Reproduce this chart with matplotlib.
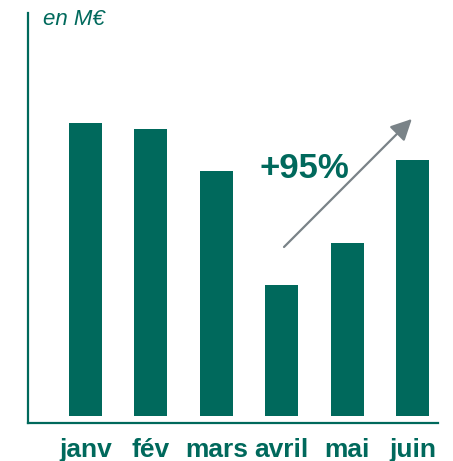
import matplotlib.pyplot as plt

months = ["janv", "fév", "mars", "avril", "mai", "juin"]
values = [29.3, 28.7, 24.5, 13.1, 17.3, 25.6]

teal = "#00695C"
grey = "#7A8388"

plt.rcParams['font.family'] = ['Liberation Sans', 'DejaVu Sans']

fig = plt.figure(figsize=(4.53, 4.61), dpi=100)
ax = fig.add_axes([28 / 453, 38 / 461, 410 / 453, 410 / 461])

x = list(range(len(months)))
ax.bar(x, values, width=0.505, color=teal)

ax.set_xlim(-0.88, 5.39)
ax.set_ylim(-0.7, 40.3)
ax.set_xticks(x)
ax.set_xticklabels(months, fontsize=19, fontweight='bold', color=teal)
ax.tick_params(axis='x', length=0, pad=11)
ax.set_yticks([])

for side in ['top', 'right']:
    ax.spines[side].set_visible(False)
for side in ['left', 'bottom']:
    ax.spines[side].set_color(teal)
    ax.spines[side].set_linewidth(1.6)

ax.text(0.037, 0.983, "en M€", transform=ax.transAxes, fontsize=16, style='italic',
        color=teal, ha='left', va='center')

# growth arrow avril -> juin
ax.annotate("", xy=(4.99, 29.7), xytext=(3.035, 16.9),
            arrowprops=dict(arrowstyle='-|>', mutation_scale=32, lw=1.6, color=grey,
                            shrinkA=0, shrinkB=0))
ax.text(3.34, 24.7, "+95%", fontsize=25, fontweight='bold', color=teal,
        ha='center', va='center')

fig.savefig("out.png", dpi=100)
